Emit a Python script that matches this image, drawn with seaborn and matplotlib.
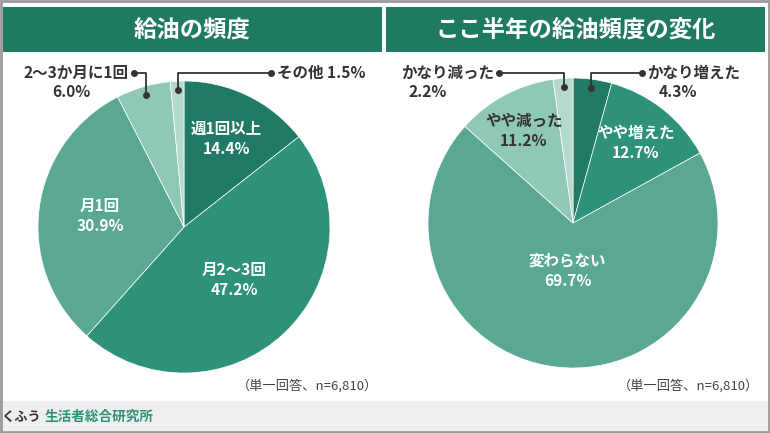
import numpy as np
import matplotlib
matplotlib.use("Agg")
import matplotlib.pyplot as plt
import seaborn as sns
from matplotlib.patches import Rectangle

# data
freq_labels = ["週1回以上", "月2〜3回", "月1回", "2〜3か月に1回", "その他"]
freq_values = [14.4, 47.2, 30.9, 6.0, 1.5]

change_labels = ["かなり増えた", "やや増えた", "変わらない", "やや減った", "かなり減った"]
change_values = [4.3, 12.7, 69.7, 11.2, 2.2]

titles = ["給油の頻度", "ここ半年の給油頻度の変化"]
note = "（単一回答、n=6,810）"

sns.set_theme(style="white")
plt.rcParams["font.family"] = ["Noto Sans CJK JP", "DejaVu Sans"]

greens = sns.color_palette(["#217a63", "#2e9179", "#5aa894", "#8fc8b7", "#b4dacf"])
header_green = "#1f7a62"
dark = "#333333"
fs = 11.2

W, H = 770, 433
fig = plt.figure(figsize=(W / 100, H / 100), dpi=100)

# background / decoration axes in pixel coordinates
bg = fig.add_axes([0, 0, 1, 1], zorder=0)
bg.set_xlim(0, W)
bg.set_ylim(H, 0)
bg.axis("off")
bg.add_patch(Rectangle((0, 0), W, H, facecolor="white", edgecolor="none"))
bg.add_patch(Rectangle((0, 401), W, 30, facecolor="#efefef", edgecolor="none"))
bg.add_patch(Rectangle((1, 1), W - 2, H - 2, facecolor="none", edgecolor="#9a9a9a", lw=2))
bg.add_patch(Rectangle((3, 7), 378.5, 45, facecolor=header_green, edgecolor="none"))
bg.add_patch(Rectangle((386, 7), 379, 45, facecolor=header_green, edgecolor="none"))
bg.text(192, 30, titles[0], color="white", fontsize=16.8, fontweight="bold", ha="center", va="center")
bg.text(576, 30, titles[1], color="white", fontsize=16.8, fontweight="bold", ha="center", va="center")
bg.text(378, 386, note, color="#444444", fontsize=9.5, ha="right", va="center")
bg.text(759, 386, note, color="#444444", fontsize=9.5, ha="right", va="center")
bg.text(41, 417, "くふう", color=dark, fontsize=9.5, fontweight="bold", ha="right", va="center")
bg.text(45, 417, "生活者総合研究所", color="#2e9179", fontsize=9.8, fontweight="bold", ha="left", va="center")


def pie_axes(cx, cy, r):
    ax = fig.add_axes([(cx - r) / W, (H - cy - r) / H, 2 * r / W, 2 * r / H], zorder=1)
    ax.axis("off")
    return ax


def mid_point(values, i, rad, cx, cy, r):
    cum = np.cumsum([0] + list(values)) / sum(values)
    ang = np.pi * 2 * (cum[i] + cum[i + 1]) / 2
    return cx + rad * r * np.sin(ang), cy - rad * r * np.cos(ang)


overlay = fig.add_axes([0, 0, 1, 1], zorder=2)
overlay.set_xlim(0, W)
overlay.set_ylim(H, 0)
overlay.axis("off")
overlay.patch.set_alpha(0)

panels = [
    (freq_labels, freq_values, 184, 227, 146,
     {0: (0.67, "white"), 1: (0.5, "white"), 2: (0.58, "white")}),
    (change_labels, change_values, 573, 223, 145,
     {1: (0.7, "white"), 2: (0.33, "white"), 3: (0.72, dark)}),
]

for labels, values, cx, cy, r, inside in panels:
    ax = pie_axes(cx, cy, r)
    ax.pie(values, colors=greens, startangle=90, counterclock=False,
           wedgeprops=dict(linewidth=0.5, edgecolor="white"))
    ax.set_xlim(-1, 1)
    ax.set_ylim(-1, 1)
    for i, (rad, col) in inside.items():
        x, y = mid_point(values, i, rad, cx, cy, r)
        overlay.text(x, y - 10, labels[i], color=col, fontsize=fs, fontweight="bold", ha="center", va="center")
        overlay.text(x, y + 10, f"{values[i]:.1f}%", color=col, fontsize=fs, fontweight="bold", ha="center", va="center")


def callout(values, i, cx, cy, r, end_x, y_line=73):
    x, y = mid_point(values, i, 0.94, cx, cy, r)
    overlay.plot([x, x, end_x], [y, y_line, y_line], color=dark, lw=1.3)
    overlay.plot([x, end_x], [y, y_line], "o", color=dark, ms=4)


# left callouts
callout(freq_values, 3, 184, 227, 146, 134)
overlay.text(129, 73, freq_labels[3], color=dark, fontsize=fs, fontweight="bold", ha="right", va="center")
overlay.text(71, 92, f"{freq_values[3]:.1f}%", color=dark, fontsize=fs, fontweight="bold", ha="center", va="center")
callout(freq_values, 4, 184, 227, 146, 271)
overlay.text(277, 73, f"{freq_labels[4]} {freq_values[4]:.1f}%", color=dark, fontsize=fs, fontweight="bold", ha="left", va="center")

# right callouts
callout(change_values, 4, 573, 223, 145, 499)
overlay.text(494, 73, change_labels[4], color=dark, fontsize=fs, fontweight="bold", ha="right", va="center")
overlay.text(428, 92, f"{change_values[4]:.1f}%", color=dark, fontsize=fs, fontweight="bold", ha="center", va="center")
callout(change_values, 0, 573, 223, 145, 642)
overlay.text(647, 73, change_labels[0], color=dark, fontsize=fs, fontweight="bold", ha="left", va="center")
overlay.text(678, 92, f"{change_values[0]:.1f}%", color=dark, fontsize=fs, fontweight="bold", ha="center", va="center")

fig.savefig("out.png", dpi=100)
